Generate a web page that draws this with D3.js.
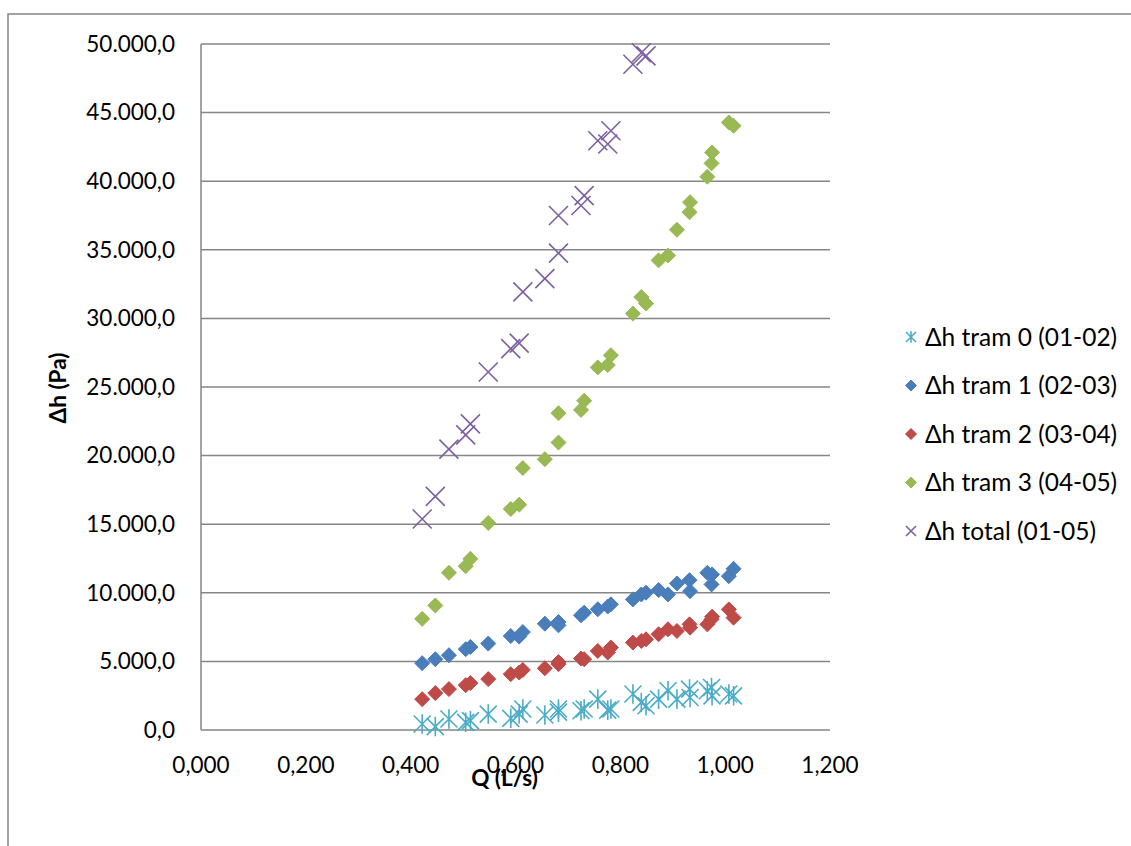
<!DOCTYPE html>
<html><head><meta charset="utf-8">
<script src="https://cdn.jsdelivr.net/npm/d3@7"></script>
<style>body{margin:0;background:#fff;} svg{display:block;} text{font-family:Lato,"Open Sans",sans-serif;fill:#000;}</style>
</head><body><svg id="c" width="1131" height="846"></svg>
<script>
const Q = [0.422,0.447,0.473,0.505,0.514,0.548,0.591,0.607,0.614,0.656,0.682,0.682,0.725,0.731,0.757,0.776,0.782,0.824,0.840,0.849,0.873,0.891,0.908,0.932,0.933,0.966,0.974,0.975,1.007,1.016];
const tram0 = [440,250,800,560,680,1160,850,1160,1530,1090,1530,1300,1400,1530,2250,1450,1530,2620,2010,1770,2250,2860,2250,2980,2370,2860,3100,2490,2620,2490];
const tram1 = [4870,5160,5450,5890,6050,6300,6850,6810,7140,7750,7630,7870,8360,8550,8800,9000,9160,9520,9880,10010,10200,9880,10680,10920,10120,11460,10610,11340,11210,11750];
const tram2 = [2250,2690,2980,3270,3420,3710,4070,4190,4380,4500,4800,4950,5210,5160,5760,5650,6010,6370,6490,6610,6980,7340,7220,7700,7460,7700,8070,8260,8790,8190];
const tram3 = [8100,9080,11460,11940,12480,15090,16110,16420,19090,19740,20950,23090,23330,24000,26430,26600,27320,30350,31560,31080,34230,34590,36460,37740,38470,40330,41300,42100,44280,44040];
const total = [15380,17030,20470,21510,22310,26090,27800,28200,31930,32900,34760,37500,38230,38950,42950,42710,43680,48520,49360,49130,null,null,null,null,null,null,null,null,null,null];
const seriesNames = ["Δh tram 0 (01-02)","Δh tram 1 (02-03)","Δh tram 2 (03-04)","Δh tram 3 (04-05)","Δh total (01-05)"];
const seriesColors = ["#4BACC6","#4A7EBB","#BE4B48","#98B954","#7D60A0"];
const seriesShapes = ["star","diamond","diamond","diamond","x"];
const xTicks = [0,0.2,0.4,0.6,0.8,1.0,1.2];
const yTicks = [0,5000,10000,15000,20000,25000,30000,35000,40000,45000,50000];

const svg = d3.select("#c");
const L=201,R=830,T=44,B=730;
const x = d3.scaleLinear().domain([0,1.2]).range([L,R]);
const y = d3.scaleLinear().domain([0,50000]).range([B,T]);
const grid="#868686";

svg.append("path").attr("d","M8,846 L8,14 L1131,14").attr("fill","none").attr("stroke",grid).attr("stroke-width",1.5);

svg.append("g").selectAll("line").data(yTicks).join("line")
  .attr("x1",L).attr("x2",R).attr("y1",d=>y(d)).attr("y2",d=>y(d))
  .attr("stroke",grid).attr("stroke-width",1.5);
svg.append("line").attr("x1",L).attr("x2",L).attr("y1",T).attr("y2",B).attr("stroke",grid).attr("stroke-width",1.5);

const fmtY = d=> d3.format(",.1f")(d).replace(/,/g,"#").replace(".",",").replace(/#/g,".");
const fmtX = d=> d3.format(".3f")(d).replace(".",",");
const fs=22.5;
svg.append("g").selectAll("text").data(yTicks).join("text")
  .attr("x",175).attr("y",d=>y(d)).attr("dy","0.35em").attr("text-anchor","end")
  .attr("font-size",fs).text(fmtY);
svg.append("g").selectAll("text").data(xTicks).join("text")
  .attr("x",d=>x(d)).attr("y",765).attr("dy","0.35em").attr("text-anchor","middle")
  .attr("font-size",fs).text(fmtX);

svg.append("text").attr("x",(L+R)/2-11).attr("y",778).attr("dy","0.35em").attr("text-anchor","middle")
  .attr("font-size",fs).attr("font-weight","bold").text("Q (L/s)");
svg.append("text").attr("transform","translate(58,388) rotate(-90)").attr("dy","0.35em").attr("text-anchor","middle")
  .attr("font-size",fs).attr("font-weight","bold").text("Δh (Pa)");

function marker(g, shape, color, s){
  if(shape==="diamond"){
    g.append("path").attr("d",`M0,${-s} L${s},0 L0,${s} L${-s},0 Z`).attr("fill",color).attr("stroke",color).attr("stroke-width",1);
  } else if(shape==="x"){
    g.append("path").attr("d",`M${-s},${-s} L${s},${s} M${-s},${s} L${s},${-s}`).attr("stroke",color).attr("stroke-width",1.6).attr("fill","none");
  } else {
    g.append("path").attr("d",`M${-s},${-s} L${s},${s} M${-s},${s} L${s},${-s} M0,${-s*1.15} L0,${s*1.15}`).attr("stroke",color).attr("stroke-width",1.6).attr("fill","none");
  }
}
const allSeries=[tram0,tram1,tram2,tram3,total];
const sizes={diamond:7.5,x:9.5,star:8.5};
allSeries.forEach((vals,i)=>{
  const g=svg.append("g");
  vals.forEach((v,j)=>{
    if(v===null) return;
    const m=g.append("g").attr("transform",`translate(${x(Q[j])},${y(v)})`);
    marker(m,seriesShapes[i],seriesColors[i],sizes[seriesShapes[i]]);
  });
});

const lg=svg.append("g");
seriesNames.forEach((n,i)=>{
  const yy=337+i*48.5;
  const m=lg.append("g").attr("transform",`translate(911,${yy})`);
  marker(m,seriesShapes[i],seriesColors[i],seriesShapes[i]==="diamond"?5.5:5);
  lg.append("text").attr("x",925).attr("y",yy).attr("dy","0.35em").attr("font-size",24.5).text(n);
});
</script></body></html>
